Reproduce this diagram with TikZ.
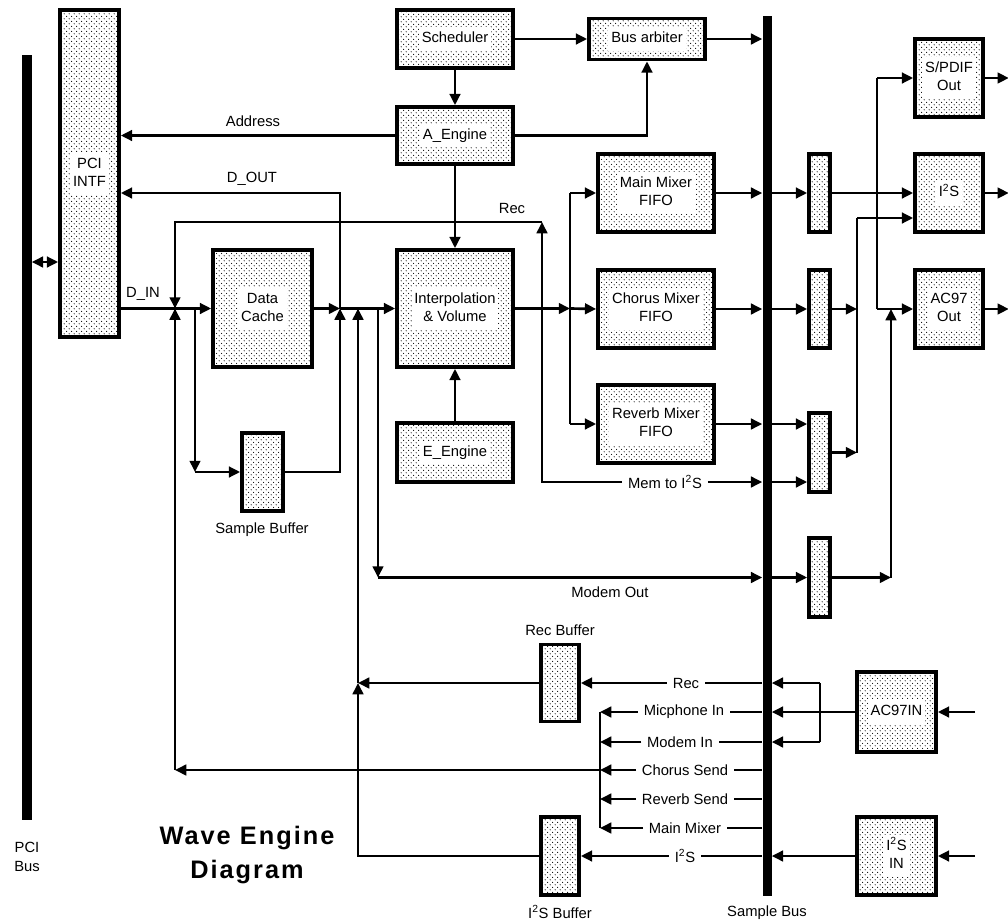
\documentclass[tikz,border=0pt]{standalone}
\usepackage{fontspec}
\setmainfont{Liberation Sans}
\newfontfamily\titlefont[LetterSpace=8]{Liberation Sans}
\usepackage{xcolor}
\usepackage{tikz}
\usetikzlibrary{arrows.meta,positioning,patterns}

\pgfdeclarepatternformonly{stipple}{\pgfqpoint{0pt}{0pt}}{\pgfqpoint{3.8pt}{3.8pt}}{\pgfqpoint{3.8pt}{3.8pt}}{%
  \pgfpathcircle{\pgfqpoint{0.95pt}{0.95pt}}{0.45pt}%
  \pgfpathcircle{\pgfqpoint{2.85pt}{2.85pt}}{0.45pt}%
  \pgfusepath{fill}}

\newcommand\blkfont{\fontsize{10.5}{13}\selectfont}
\newcommand\wt[1]{{\setlength\fboxsep{2pt}\colorbox{white}{\begin{tabular}{@{}c@{}}#1\end{tabular}}}}
\newcommand\isq{I\textsuperscript{2}S}

\tikzset{
  blk/.style={draw, line width=2.6pt, pattern=stipple, inner sep=0pt, align=center, font=\blkfont},
  sz/.style 2 args={minimum width=#1*0.025cm, minimum height=#2*0.025cm},
  busbar/.style={fill=black, inner sep=0pt, minimum width=0.225cm},
  arr/.style={-{Triangle[length=8pt,width=7.5pt]}, line width=1.9pt},
  ln/.style={line width=1.9pt},
  txt/.style={font=\blkfont, inner sep=0pt, align=center},
  sig/.style={font=\blkfont, inner ysep=0pt, inner xsep=4pt},
}

\begin{document}
\begin{tikzpicture}[x=0.025cm,y=-0.025cm]
\useasboundingbox (0,0) rectangle (1008,922);

% buses
\node[busbar, minimum height=765*0.025cm] (pcibus) at (27,437.5) {};
\node[busbar, minimum height=880*0.025cm] (sbus) at (767,456) {};
\node[txt] (pcibuslbl) at (27,857) {PCI\\Bus};
\node[txt] (sbuslbl) at (767,913) {Sample Bus};

% blocks
\node[blk, sz={59}{327}] (pci) at (89.5,173.5) {\wt{PCI\\INTF}};
\node[blk, sz={99}{117}] (cache) at (262.5,308.5) {\wt{Data\\Cache}};
\node[blk, sz={41}{78}] (sbuf) at (262.5,472) {};
\node[txt] (sbuflbl) at (262,530) {Sample Buffer};
\node[blk, sz={116}{58}] (sched) at (455,39) {\wt{Scheduler}};
\node[blk, sz={116}{57}] (aeng) at (455,135.5) {\wt{A\_Engine}};
\node[blk, sz={116}{117}] (interp) at (455,308.5) {\wt{Interpolation\\\& Volume}};
\node[blk, sz={116}{59}] (eeng) at (455,452.5) {\wt{E\_Engine}};
\node[blk, sz={116}{41}] (arb) at (647,39) {\wt{Bus arbiter}};
\node[blk, sz={116}{78}] (mainf) at (656,193) {\wt{Main Mixer\\FIFO}};
\node[blk, sz={116}{78}] (chorf) at (656,309) {\wt{Chorus Mixer\\FIFO}};
\node[blk, sz={116}{78}] (revf) at (656,424) {\wt{Reverb Mixer\\FIFO}};
\node[blk, sz={21}{78}] (s1) at (819.5,193) {};
\node[blk, sz={21}{78}] (s2) at (819.5,309) {};
\node[blk, sz={21}{79}] (s3) at (819.5,452.5) {};
\node[blk, sz={21}{79}] (s4) at (819.5,577.5) {};
\node[blk, sz={68}{78}] (spdif) at (949,78) {\wt{S/PDIF\\Out}};
\node[blk, sz={68}{78}] (i2s) at (949,193) {\wt{\isq}};
\node[blk, sz={68}{78}] (ac97o) at (949,309) {\wt{AC97\\Out}};
\node[blk, sz={38}{77}] (recbuf) at (560,683) {};
\node[txt] (recbuflbl) at (560,630) {Rec Buffer};
\node[blk, sz={38}{78}] (i2sbuf) at (560,856) {};
\node[txt] (i2sbuflbl) at (560,912) {\isq\ Buffer};
\node[blk, sz={79}{80}] (ac97in) at (896.5,712) {\wt{AC97IN}};
\node[blk, sz={79}{78}] (i2sin) at (896.5,856) {\wt{\isq\\IN}};

% junctions
\coordinate (jrec) at (175,308.5);
\coordinate (jsb) at (195,308.5);
\coordinate (jdo) at (340,308.5);
\coordinate (jrb) at (358,308.5);
\coordinate (jmo) at (378,308.5);
\coordinate (jmx) at (570,308.5);
\coordinate (xrec) at (542,222);
\coordinate (xdout) at (340,193);
\coordinate (xcol) at (600,770);
\coordinate (xa) at (857,218);
\coordinate (xb) at (877,193);
\coordinate (xc) at (891,577.5);
\coordinate (xi) at (820,712);
\coordinate (ina) at (975,712);
\coordinate (inb) at (975,856);
\coordinate (dbl) at (45,262);

% signal labels
\node[txt] (addrlbl) at (253,121) {Address};
\node[txt] (doutlbl) at (252,179) {D\_OUT};
\node[txt] (dinlbl) at (143,294) {D\_IN};
\node[txt] (reclbl) at (512,208) {Rec};
\node[txt] (modemlbl) at (610,592) {Modem Out};
\node[sig] (mem) at (665,482) {Mem to \isq};
\node[sig] (recl) at (686,683) {Rec};
\node[sig] (micl) at (684,712) {Micphone In};
\node[sig] (mdi) at (680,742) {Modem In};
\node[sig] (chs) at (685,770) {Chorus Send};
\node[sig] (rvs) at (685,799) {Reverb Send};
\node[sig] (mmx) at (685,828) {Main Mixer};
\node[sig] (i2sl) at (685,856) {\isq};

% PCI side
\draw[{Triangle[length=8pt,width=7.5pt]}-{Triangle[length=8pt,width=7.5pt]}, ln] (pcibus.east |- dbl) -- (pci.west |- dbl);
\draw[arr] (aeng.west) -- (pci.east |- aeng.west);
\draw[arr] (jdo) -- (xdout) -- (pci.east |- xdout);
\draw[arr] (pci.east |- cache.west) -- (cache.west);
\draw[arr] (cache.east) -- (jdo);
\draw[arr] (jdo) -- (interp.west);
\draw[arr] (jsb) -- (jsb |- sbuf.west);
\draw[arr] (jsb |- sbuf.west) -- (sbuf.west);
\draw[arr] (sbuf.east) -| (jdo);
\draw[arr] (mem.west) -| (xrec);
\draw[arr] (xrec) -| (jrec);

% control
\draw[arr] (sched.south) -- (aeng.north);
\draw[arr] (aeng.south) -- (interp.north);
\draw[arr] (eeng.north) -- (interp.south);
\draw[arr] (sched.east) -- (arb.west);
\draw[arr] (aeng.east) -| (arb.south);
\draw[arr] (arb.east) -- (sbus.west |- arb.east);

% mixers
\draw[arr] (interp.east) -- (jmx);
\draw[ln] (jmx |- mainf.west) -- (jmx |- revf.west);
\draw[arr] (jmx |- mainf.west) -- (mainf.west);
\draw[arr] (jmx) -- (chorf.west);
\draw[arr] (jmx |- revf.west) -- (revf.west);
\draw[arr] (mainf.east) -- (sbus.west |- mainf.east);
\draw[arr] (chorf.east) -- (sbus.west |- chorf.east);
\draw[arr] (revf.east) -- (sbus.west |- revf.east);
\draw[arr] (mem.east) -- (sbus.west |- mem.east);
\draw[arr] (jmo) -- (jmo |- s4.west);
\draw[arr] (jmo |- s4.west) -- (sbus.west |- s4.west);

% outputs
\draw[arr] (sbus.east |- s1.west) -- (s1.west);
\draw[arr] (sbus.east |- s2.west) -- (s2.west);
\draw[arr] (sbus.east |- revf.east) -- (s3.west |- revf.east);
\draw[arr] (sbus.east |- mem.east) -- (s3.west |- mem.east);
\draw[arr] (sbus.east |- s4.west) -- (s4.west);
\draw[arr] (s1.east) -- (i2s.west);
\draw[arr] (s2.east) -- (s2.east -| xa);
\draw[arr] (s3.east) -- (s3.east -| xa);
\draw[ln] (s3.east -| xa) -- (xa);
\draw[arr] (xa) -- (xa -| i2s.west);
\draw[ln] (xb |- spdif.west) -- (xb |- ac97o.west);
\draw[arr] (xb |- spdif.west) -- (spdif.west);
\draw[arr] (xb |- ac97o.west) -- (ac97o.west);
\draw[arr] (s4.east) -- (xc);
\draw[arr] (xc) -- (xc |- ac97o.west);
\draw[arr] (spdif.east) -- ++(24,0);
\draw[arr] (i2s.east) -- ++(24,0);
\draw[arr] (ac97o.east) -- ++(24,0);

% inputs
\foreach \s in {recl,micl,mdi,chs,rvs,mmx,i2sl}
  \draw[ln] (sbus.west |- \s.east) -- (\s.east);
\draw[arr] (recl.west) -- (recbuf.east);
\draw[arr] (i2sl.west) -- (i2sbuf.east);
\foreach \s in {micl,mdi,chs,rvs,mmx}
  \draw[arr] (\s.west) -- (xcol |- \s.west);
\draw[ln] (xcol |- micl.west) -- (xcol |- mmx.west);
\draw[arr] (xcol) -- (jrec |- xcol);
\draw[arr] (jrec |- xcol) -- (jrec);
\draw[arr] (recbuf.west) -- (recbuf.west -| jrb);
\draw[arr] (i2sbuf.west) -| (recbuf.west -| jrb);
\draw[arr] (recbuf.west -| jrb) -- (jrb);
\draw[arr] (ina) -- (ac97in.east);
\draw[arr] (ac97in.west) -- (sbus.east |- ac97in.west);
\draw[ln] (xi |- recl.east) -- (xi |- mdi.east);
\draw[arr] (xi |- recl.east) -- (sbus.east |- recl.east);
\draw[arr] (xi |- mdi.east) -- (sbus.east |- mdi.east);
\draw[arr] (inb) -- (i2sin.east);
\draw[arr] (i2sin.west) -- (sbus.east |- i2sin.west);

% title
\node[txt, font={\titlefont\fontsize{18}{24}\selectfont\bfseries}] (title) at (247,855) {Wave Engine\\Diagram};
\end{tikzpicture}
\end{document}
